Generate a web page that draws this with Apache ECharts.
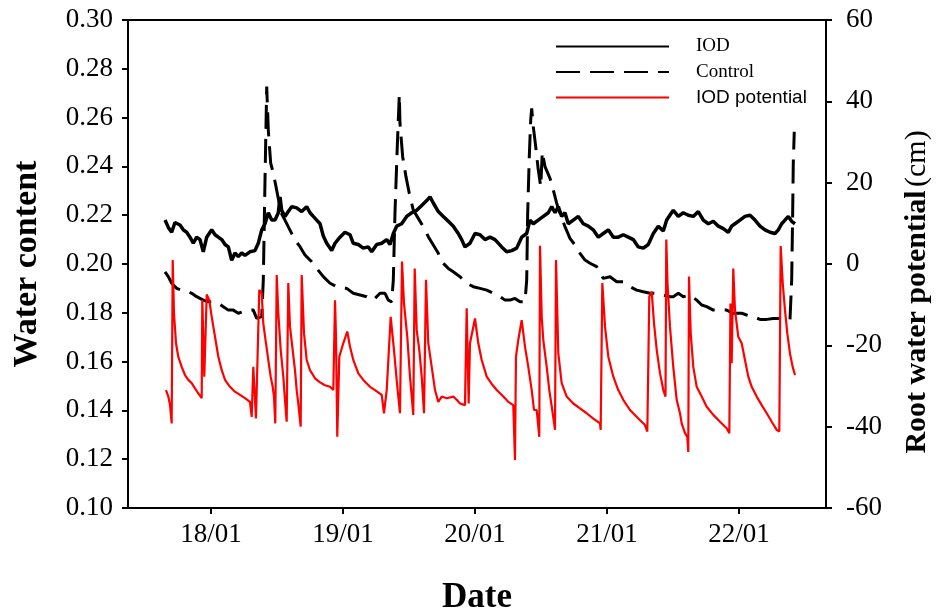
<!DOCTYPE html>
<html><head><meta charset="utf-8">
<script src="https://cdn.jsdelivr.net/npm/echarts@6/dist/echarts.min.js"></script>
<style>html,body{margin:0;padding:0;background:#fff}#c{width:937px;height:616px}</style>
</head><body><div id="c"></div>
<script>
// time in hours relative to 18/01 00:00
const tickHours = [0, 24, 48, 72, 96];
const tickLabels = ['18/01', '19/01', '20/01', '21/01', '22/01'];

const iodHours = [-8.36,-7.76,-7.15,-6.55,-5.64,-5.04,-4.42,-3.82,-3.22,-2.6,-2.0,-1.4,-0.78,0.13,0.73,1.33,1.95,2.55,3.15,3.76,4.36,4.96,5.58,6.18,7.09,8.0,8.6,9.22,9.82,10.42,11.04,11.64,12.24,12.55,12.85,13.45,14.05,14.67,15.58,16.49,17.4,18.0,18.6,19.22,19.82,20.42,21.04,21.95,22.55,23.45,24.36,25.27,25.87,26.78,27.69,28.6,29.22,30.13,31.04,31.95,32.55,33.15,33.76,34.67,35.58,36.49,37.4,38.31,39.22,39.82,40.42,41.33,42.24,43.15,44.05,44.96,45.58,46.18,47.09,48.0,48.91,49.82,50.73,51.64,52.85,53.76,54.67,55.58,56.49,57.4,58.0,58.6,59.5,60.42,61.33,61.95,62.55,63.15,63.76,64.36,64.96,65.87,66.78,67.69,68.6,69.5,70.42,71.33,72.24,73.15,74.05,74.96,75.87,76.78,77.69,78.6,79.51,80.42,81.33,82.24,82.85,84.05,84.96,85.87,86.78,87.69,88.6,89.51,90.42,91.33,92.24,93.15,94.05,94.67,95.27,96.18,97.09,98.0,98.91,99.82,100.73,101.64,102.55,103.15,103.76,104.36,104.96,105.58,106.18];
const iodWater = [0.218,0.215,0.213,0.217,0.216,0.214,0.213,0.211,0.2085,0.211,0.210,0.205,0.211,0.214,0.212,0.211,0.210,0.208,0.207,0.2015,0.2045,0.203,0.2045,0.2035,0.205,0.2055,0.2085,0.214,0.2165,0.221,0.218,0.218,0.221,0.2275,0.222,0.2195,0.2215,0.2235,0.223,0.2215,0.2235,0.221,0.2195,0.218,0.2165,0.2115,0.2085,0.2055,0.2085,0.211,0.213,0.212,0.2085,0.208,0.2065,0.207,0.205,0.208,0.2085,0.210,0.208,0.2125,0.2155,0.2165,0.2195,0.221,0.222,0.224,0.226,0.2275,0.225,0.2215,0.2195,0.2175,0.2155,0.2125,0.210,0.207,0.2085,0.2125,0.212,0.210,0.211,0.210,0.207,0.205,0.2055,0.2065,0.211,0.2125,0.218,0.2165,0.218,0.2195,0.221,0.2235,0.221,0.2235,0.2195,0.221,0.2165,0.218,0.2195,0.2165,0.2155,0.214,0.211,0.2125,0.214,0.211,0.211,0.212,0.211,0.210,0.207,0.2065,0.208,0.2125,0.2155,0.2135,0.218,0.222,0.2195,0.221,0.220,0.2195,0.2215,0.218,0.2165,0.2175,0.2155,0.2145,0.213,0.2155,0.2165,0.218,0.2195,0.220,0.218,0.2155,0.214,0.213,0.2125,0.214,0.2165,0.218,0.2195,0.2175,0.2165];

const ctrlHours = [-8.36,-7.76,-7.15,-6.24,-5.33,-4.42,-3.51,-2.6,-1.4,-0.49,0.42,1.33,2.24,3.15,4.05,4.96,5.87,6.78,7.69,8.31,9.22,9.51,9.82,10.13,10.42,10.85,11.33,11.82,12.73,13.45,14.36,15.27,16.18,17.09,18.31,19.22,20.42,21.64,22.85,24.67,25.87,27.09,28.31,29.51,30.73,31.64,32.24,32.85,33.15,33.45,33.87,34.24,34.36,34.85,35.45,36.05,36.78,37.69,38.6,39.51,40.42,41.33,41.95,43.15,44.05,45.27,46.49,47.69,48.91,50.13,51.33,52.55,53.45,54.36,55.27,56.18,57.09,57.4,57.58,57.87,58.13,58.31,58.6,59.04,59.51,59.95,60.24,60.73,61.64,62.24,62.85,63.45,64.36,65.27,66.18,67.09,68.0,68.91,70.13,71.33,72.55,73.76,74.96,76.18,77.4,78.6,79.82,81.04,82.24,83.45,84.05,84.96,85.87,87.09,88.31,89.22,90.13,91.33,92.55,93.76,94.96,96.49,97.4,98.6,99.82,101.04,102.24,103.45,104.67,105.27,105.58,105.76,105.87,106.05];
const ctrlWater = [0.1968,0.1948,0.1921,0.190,0.1893,0.189,0.188,0.1866,0.1852,0.1845,0.1845,0.1839,0.1825,0.1811,0.1811,0.1798,0.1805,0.1811,0.1811,0.1777,0.1784,0.1934,0.2344,0.2727,0.2549,0.2413,0.2372,0.2317,0.221,0.218,0.2139,0.2098,0.2071,0.2037,0.2009,0.1982,0.1948,0.1921,0.1907,0.190,0.188,0.1873,0.1866,0.1852,0.188,0.188,0.1852,0.1845,0.1934,0.2208,0.2481,0.2693,0.2577,0.244,0.2358,0.229,0.2221,0.2187,0.2153,0.2112,0.2078,0.2044,0.2009,0.1982,0.1968,0.1948,0.1921,0.1907,0.190,0.1893,0.188,0.1866,0.1852,0.1852,0.1859,0.1845,0.1845,0.1934,0.2208,0.244,0.259,0.2638,0.2563,0.2481,0.2385,0.2317,0.246,0.2399,0.2351,0.2303,0.2249,0.2208,0.2153,0.2105,0.2078,0.2044,0.2016,0.2003,0.1989,0.1941,0.1948,0.1927,0.1927,0.1907,0.1893,0.1886,0.188,0.188,0.1873,0.1866,0.1866,0.188,0.1866,0.1873,0.1852,0.1832,0.1825,0.1811,0.1811,0.1811,0.1798,0.1798,0.1791,0.1784,0.1773,0.1773,0.1777,0.1777,0.177,0.177,0.1934,0.2208,0.2413,0.2542];

const potHours = [-8.18,-7.76,-7.45,-7.15,-6.96,-6.73,-6.36,-5.95,-5.33,-4.73,-4.13,-3.51,-2.91,-2.31,-1.69,-1.58,-1.22,-0.78,-0.31,0.13,0.73,1.33,1.95,2.55,3.45,4.36,5.27,6.18,7.09,7.4,7.69,8.18,8.78,9.22,9.51,10.0,10.42,10.85,11.22,11.45,11.69,11.95,12.24,12.67,13.15,13.45,13.76,14.05,14.36,14.85,15.27,15.58,15.87,16.31,16.49,16.91,17.4,18.0,18.91,19.82,20.73,21.64,22.24,22.55,22.73,22.96,23.33,24.05,24.78,25.27,25.87,26.78,27.69,28.91,29.82,31.04,31.45,31.95,32.67,33.27,33.76,34.36,34.73,35.09,35.69,36.18,36.78,37.04,37.4,37.87,38.31,38.73,39.09,39.51,40.13,40.73,41.33,41.95,42.85,44.05,44.67,45.27,46.18,46.49,46.85,47.09,48.0,48.6,49.22,50.13,51.04,51.95,52.55,53.15,54.05,54.96,55.27,55.45,55.87,56.49,57.09,57.69,58.31,58.73,59.22,59.69,59.82,60.13,60.42,61.04,61.51,62.13,62.55,62.73,63.15,63.76,64.67,65.87,67.09,68.31,69.51,70.73,70.85,71.15,71.64,72.24,73.15,74.05,74.96,76.18,77.69,78.91,79.33,79.69,80.13,80.55,81.04,81.64,82.24,82.64,82.78,83.0,83.45,84.05,84.67,85.27,85.58,86.18,86.6,86.78,86.91,87.22,87.69,88.31,89.22,90.13,91.33,92.55,93.76,94.24,94.45,94.67,94.96,95.27,95.87,96.49,97.09,97.69,98.31,99.22,100.13,101.04,101.95,102.85,103.33,103.58,103.95,104.36,104.78,105.27,105.76,106.18];
const potValues = [-31.0,-32.6,-34.7,-39.2,1.0,-12.1,-19.5,-22.8,-25.3,-27.3,-28.5,-29.3,-30.6,-31.8,-33.0,-8.8,-27.7,-7.5,-8.9,-13.0,-17.9,-22.8,-26.1,-28.5,-30.2,-31.4,-32.2,-33.0,-33.9,-37.6,-25.3,-38.0,-6.4,-7.2,-14.6,-19.5,-23.6,-27.7,-30.2,-32.6,-39.2,-2.7,-12.1,-21.1,-27.7,-33.4,-38.8,-4.7,-15.4,-21.1,-26.1,-31.0,-34.3,-40.0,-2.7,-17.0,-23.6,-26.1,-28.1,-29.1,-29.8,-30.2,-31.0,-8.9,-17.9,-42.5,-22.8,-19.5,-16.6,-20.3,-23.6,-26.9,-28.5,-30.2,-31.0,-32.2,-36.7,-31.0,-13.0,-21.1,-28.5,-36.7,0.6,-9.7,-17.9,-27.7,-37.1,-1.1,-16.2,-21.1,-27.7,-36.7,-3.9,-19.5,-25.3,-31.0,-33.9,-32.6,-33.0,-32.6,-33.4,-34.3,-34.7,-10.9,-34.3,-19.5,-13.4,-19.5,-23.6,-27.7,-29.5,-31.0,-31.8,-32.6,-33.9,-34.7,-48.2,-22.8,-18.7,-13.8,-20.3,-25.3,-31.0,-35.9,-35.9,-42.5,4.5,-13.0,-18.7,-25.3,-31.0,-36.7,-40.8,1.0,-22.0,-29.3,-32.6,-34.3,-35.5,-36.7,-38.0,-39.2,-40.8,-4.7,-15.4,-22.8,-27.7,-31.0,-33.4,-35.9,-38.0,-39.6,-41.2,-8.0,-6.8,-14.6,-21.1,-26.9,-31.0,-32.6,6.0,-4.7,-15.4,-25.3,-33.4,-36.7,-39.2,-41.6,-42.5,-46.2,-3.1,-17.0,-25.3,-30.2,-32.6,-35.1,-37.1,-38.8,-40.4,-41.6,-9.7,-24.4,-1.1,-11.3,-17.9,-19.5,-23.6,-27.7,-30.2,-32.6,-34.7,-36.7,-38.8,-40.8,-41.2,4.4,-4.7,-11.3,-17.0,-22.0,-25.3,-27.3];

const zip = (a, b) => a.map((x, i) => [x, b[i]]);
const serif = '"Liberation Serif", "Times New Roman", serif';
const sans = '"Liberation Sans", Arial, sans-serif';

const chart = echarts.init(document.getElementById('c'), null, {renderer: 'canvas'});
chart.setOption({
  animation: false,
  backgroundColor: '#fff',
  grid: {left: 128, right: 111, top: 20, bottom: 108, containLabel: false, outerBoundsMode: 'none',
         show: true, borderColor: '#000', borderWidth: 2, backgroundColor: 'transparent'},
  legend: {
    orient: 'vertical', left: 555, top: 37, padding: 0, itemWidth: 113, itemHeight: 14, itemGap: 6.5,
    data: ['IOD', 'Control', 'IOD potential'],
    itemStyle: {color: 'transparent', borderColor: 'transparent', borderWidth: 0, opacity: 0},
    formatter: n => n === 'IOD potential' ? '{s|' + n + '}' : '{t|' + n + '}',
    textStyle: {
      color: '#000', padding: [0, 0, 0, 22],
      rich: {t: {fontFamily: serif, fontSize: 19, color: '#000'}, s: {fontFamily: sans, fontSize: 19, color: '#000'}}
    }
  },
  xAxis: {
    type: 'value', min: -15.09, max: 111.82,
    name: 'Date', nameLocation: 'middle', nameGap: 72,
    nameTextStyle: {fontFamily: serif, fontSize: 35, fontWeight: 'bold', color: '#000'},
    axisLine: {show: true, onZero: false, lineStyle: {color: '#000', width: 2}},
    axisTick: {show: true, length: 6, lineStyle: {color: '#000', width: 2}, customValues: tickHours},
    axisLabel: {customValues: tickHours, formatter: v => tickLabels[tickHours.indexOf(v)], margin: 13, fontFamily: serif, fontSize: 27, color: '#000'},
    splitLine: {show: false}
  },
  yAxis: [
    {
      type: 'value', min: 0.10, max: 0.30, interval: 0.02, position: 'left',
      name: 'Water content', nameLocation: 'middle', nameRotate: 90, nameGap: 84,
      nameTextStyle: {fontFamily: serif, fontSize: 34, fontWeight: 'bold', color: '#000'},
      axisLine: {show: true, onZero: false, lineStyle: {color: '#000', width: 2}},
      axisTick: {show: true, length: 6, lineStyle: {color: '#000', width: 2}},
      axisLabel: {formatter: v => v.toFixed(2), margin: 15, fontFamily: serif, fontSize: 27, color: '#000'},
      splitLine: {show: false}
    },
    {
      type: 'value', min: -60, max: 60, interval: 20, position: 'right',
      name: '{b|Root water potential} {r|(cm)}', nameLocation: 'middle', nameRotate: 90, nameGap: 76,
      nameTextStyle: {color: '#000', padding: [0, 56, 0, 0], rich: {
        b: {fontFamily: serif, fontSize: 30, fontWeight: 'bold', color: '#000'},
        r: {fontFamily: serif, fontSize: 30, color: '#000'}
      }},
      axisLine: {show: true, onZero: false, lineStyle: {color: '#000', width: 2}},
      axisTick: {show: true, length: 6, lineStyle: {color: '#000', width: 2}},
      axisLabel: {margin: 20, fontFamily: serif, fontSize: 27, color: '#000'},
      splitLine: {show: false}
    }
  ],
  series: [
    {name: 'IOD', type: 'line', yAxisIndex: 0, data: zip(iodHours, iodWater), symbol: 'none', showSymbol: false,
     lineStyle: {color: '#000', width: 3.5}, itemStyle: {color: '#000'}},
    {name: 'Control', type: 'line', yAxisIndex: 0, data: zip(ctrlHours, ctrlWater), symbol: 'none', showSymbol: false,
     lineStyle: {color: '#000', width: 3, type: [24, 10]}, itemStyle: {color: '#000'}},
    {name: 'IOD potential', type: 'line', yAxisIndex: 1, data: zip(potHours, potValues), symbol: 'none', showSymbol: false,
     lineStyle: {color: '#ff0000', width: 2.2}, itemStyle: {color: '#ff0000'}}
  ]
});
</script>
</body></html>
